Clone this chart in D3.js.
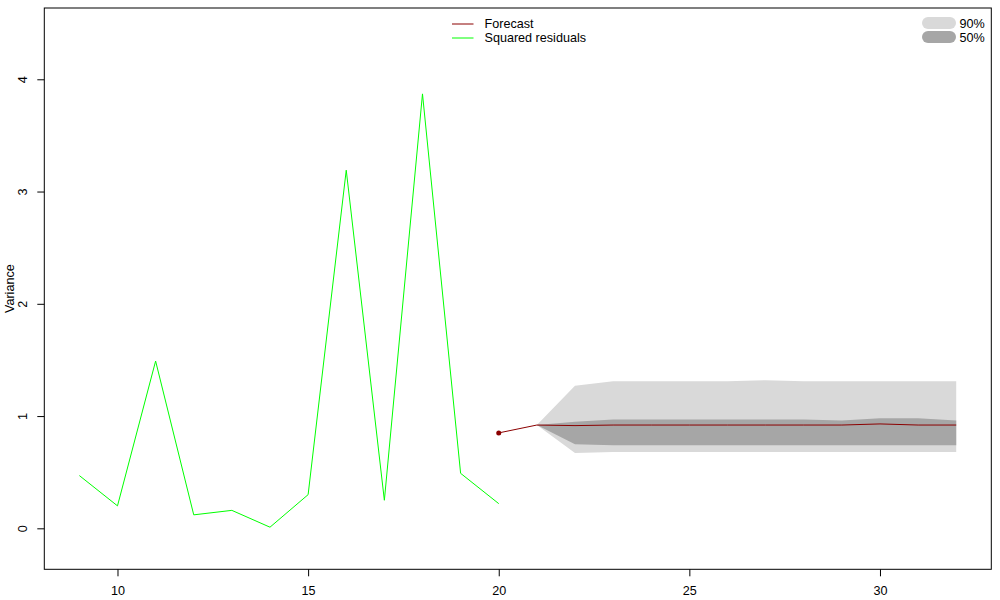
<!DOCTYPE html>
<html>
<head>
<meta charset="utf-8">
<script src="https://cdn.jsdelivr.net/npm/d3@7"></script>
<style>
  body { margin: 0; background: #fff; }
  text { font-family: "Liberation Sans", Arial, sans-serif; font-size: 12.6px; fill: #000; }
</style>
</head>
<body>
<div id="my_dataviz"></div>
<script>

// squared residuals (in-sample)
const resX = [9, 10, 11, 12, 13, 14, 15, 16, 17, 18, 19, 20]
const resVals = [0.47, 0.20, 1.49, 0.12, 0.16, 0.01, 0.30, 3.19, 0.25, 3.87, 0.49, 0.22]

// forecast line (starts from last observed point)
const fcX = [20, 21, 22, 23, 24, 25, 26, 27, 28, 29, 30, 31, 32]
const fcVals = [0.85, 0.92, 0.915, 0.92, 0.92, 0.92, 0.92, 0.92, 0.92, 0.92, 0.93, 0.92, 0.92]

// fan bands
const bandX = [21, 22, 23, 24, 25, 26, 27, 28, 29, 30, 31, 32]
const hi90 = [0.92, 1.27, 1.31, 1.31, 1.31, 1.31, 1.32, 1.31, 1.31, 1.31, 1.31, 1.31]
const lo90 = [0.92, 0.67, 0.68, 0.68, 0.68, 0.68, 0.68, 0.68, 0.68, 0.68, 0.68, 0.68]
const hi50 = [0.92, 0.95, 0.97, 0.97, 0.97, 0.97, 0.97, 0.97, 0.96, 0.98, 0.98, 0.96]
const lo50 = [0.92, 0.75, 0.74, 0.74, 0.74, 0.74, 0.74, 0.74, 0.74, 0.74, 0.74, 0.74]

const xTicks = [10, 15, 20, 25, 30]
const yTicks = [0, 1, 2, 3, 4]
const legendLines = ["Forecast", "Squared residuals"]
const legendBands = ["90%", "50%"]

const col90 = "#d9d9d9", col50 = "#a6a6a6", colFc = "#8b0000", colRes = "#00ff00"

const width = 1000, height = 600
const plot = { left: 44.3, right: 991.3, top: 8, bottom: 569.3 }

const svg = d3.select("#my_dataviz")
    .append("svg")
    .attr("width", width)
    .attr("height", height)

const x = d3.scaleLinear()
    .domain([8.08, 32.92])
    .range([plot.left, plot.right])

const y = d3.scaleLinear()
    .domain([-0.365, 4.635])
    .range([plot.bottom, plot.top])

// fan
function band(lo, hi, color) {
    const area = d3.area()
        .x((d, i) => x(bandX[i]))
        .y0((d, i) => y(lo[i]))
        .y1((d, i) => y(hi[i]))
    svg.append("path")
        .attr("d", area(bandX))
        .attr("fill", color)
        .attr("stroke", "none")
}
band(lo90, hi90, col90)
band(lo50, hi50, col50)

// forecast line + starting point
const line = d3.line()
    .x(d => x(d[0]))
    .y(d => y(d[1]))

svg.append("path")
    .attr("d", line(fcX.map((v, i) => [v, fcVals[i]])))
    .attr("fill", "none")
    .attr("stroke", colFc)
    .attr("stroke-width", 1)

svg.append("circle")
    .attr("cx", x(fcX[0]))
    .attr("cy", y(fcVals[0]))
    .attr("r", 2.5)
    .attr("fill", colFc)

// residuals
svg.append("path")
    .attr("d", line(resX.map((v, i) => [v, resVals[i]])))
    .attr("fill", "none")
    .attr("stroke", colRes)
    .attr("stroke-width", 1)

// box
svg.append("rect")
    .attr("x", plot.left)
    .attr("y", plot.top)
    .attr("width", plot.right - plot.left)
    .attr("height", plot.bottom - plot.top)
    .attr("fill", "none")
    .attr("stroke", "#000")
    .attr("stroke-width", 1)

// axes
const xAxis = svg.append("g")
    .attr("transform", `translate(0,${plot.bottom})`)
    .call(d3.axisBottom(x).tickValues(xTicks).tickFormat(d3.format("d")).tickSize(7).tickPadding(10))
xAxis.select(".domain").remove()
xAxis.attr("font-family", null).attr("font-size", null)

const yAxis = svg.append("g")
    .attr("transform", `translate(${plot.left},0)`)
    .call(d3.axisLeft(y).tickValues(yTicks).tickFormat(d3.format("d")).tickSize(7))
yAxis.select(".domain").remove()
yAxis.attr("font-family", null).attr("font-size", null)
yAxis.selectAll("text")
    .attr("x", null)
    .attr("dy", null)
    .attr("text-anchor", "middle")
    .attr("transform", "translate(-17,0) rotate(-90)")

svg.selectAll(".tick line").attr("stroke", "#000")

svg.append("text")
    .attr("transform", `translate(14,${(plot.top + plot.bottom) / 2}) rotate(-90)`)
    .attr("text-anchor", "middle")
    .text("Variance")

// legend (lines)
const leg = svg.append("g")
leg.selectAll("line")
    .data(legendLines)
    .enter().append("line")
    .attr("x1", 452).attr("x2", 473.5)
    .attr("y1", (d, i) => 24 + i * 14)
    .attr("y2", (d, i) => 24 + i * 14)
    .attr("stroke", (d, i) => i === 0 ? colFc : colRes)
    .attr("stroke-width", 1)
leg.selectAll("text")
    .data(legendLines)
    .enter().append("text")
    .attr("x", 484.5)
    .attr("y", (d, i) => 24 + i * 14)
    .attr("dy", "0.35em")
    .text(d => d)

// legend (bands)
const legB = svg.append("g")
legB.selectAll("line")
    .data(legendBands)
    .enter().append("line")
    .attr("x1", 928).attr("x2", 950)
    .attr("y1", (d, i) => 23 + i * 14)
    .attr("y2", (d, i) => 23 + i * 14)
    .attr("stroke", (d, i) => i === 0 ? col90 : col50)
    .attr("stroke-width", 12)
    .attr("stroke-linecap", "round")
legB.selectAll("text")
    .data(legendBands)
    .enter().append("text")
    .attr("x", 959.5)
    .attr("y", (d, i) => 24 + i * 14)
    .attr("dy", "0.35em")
    .text(d => d)

</script>
</body>
</html>
